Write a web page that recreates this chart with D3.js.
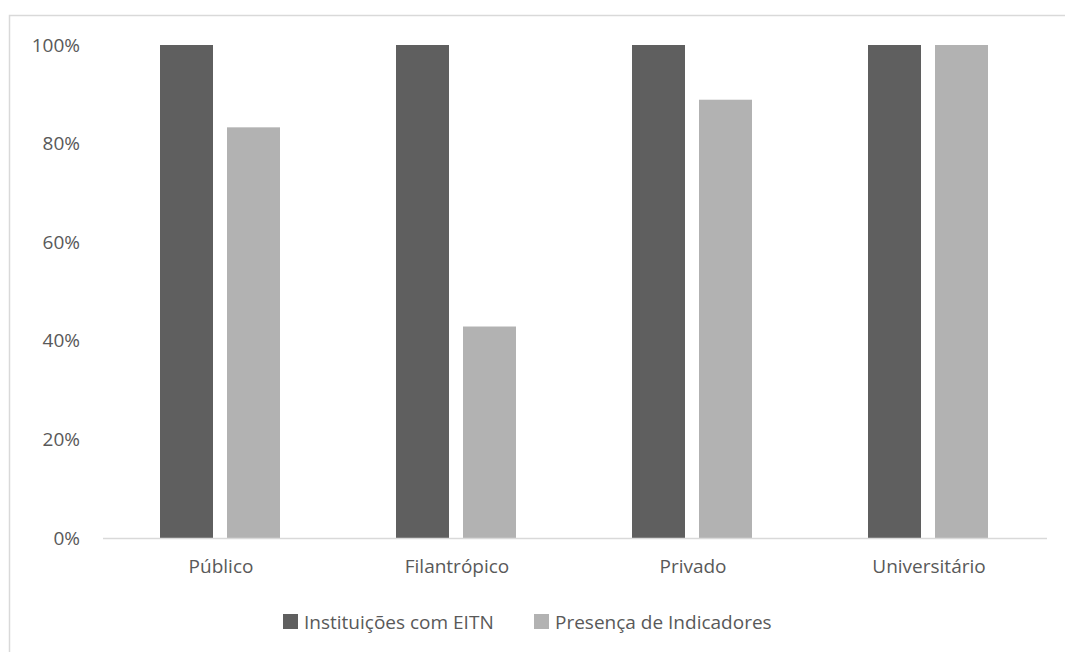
<!DOCTYPE html>
<html><head><meta charset="utf-8">
<script src="https://cdn.jsdelivr.net/npm/d3@7"></script>
<style>body{margin:0;background:#fff}svg{display:block}text{font-family:"Open Sans",sans-serif;fill:#595959}</style>
</head><body>
<script>
const categories = ["Público","Filantrópico","Privado","Universitário"];
const seriesNames = ["Instituições com EITN","Presença de Indicadores"];
const eitn = [1,1,1,1];
const indicadores = [0.833,0.429,0.889,1];
const yTicks = [0,0.2,0.4,0.6,0.8,1];
const colors = ["#5f5f5f","#b2b2b2"];

(function(){
const W=1065,H=652;
const svg=d3.select("body").append("svg").attr("width",W).attr("height",H);
svg.append("rect").attr("x",9.5).attr("y",15.5).attr("width",1070).attr("height",700)
  .attr("fill","none").attr("stroke","#d9d9d9").attr("stroke-width",1.5);

const pL=103,pR=1047,pT=45,pB=538;
const x=d3.scaleBand().domain(categories).range([pL,pR]);
const x1=d3.scaleBand().domain([0,1]).range([0,120]).paddingInner(0.209);
const y=d3.scaleLinear().domain([0,1]).range([pB,pT]);

const data=categories.map((c,i)=>({c,v:[eitn[i],indicadores[i]]}));
const g=svg.append("g");
data.forEach(d=>{
  d.v.forEach((v,j)=>{
    g.append("rect")
      .attr("x",x(d.c)+x.bandwidth()/2-61+x1(j))
      .attr("y",y(v)).attr("width",x1.bandwidth()).attr("height",y(0)-y(v))
      .attr("fill",colors[j]);
  });
});

svg.append("line").attr("x1",pL).attr("x2",pR).attr("y1",pB+0.5).attr("y2",pB+0.5)
  .attr("stroke","#d9d9d9").attr("stroke-width",1.5);

const fs=19;
const yAxis=d3.axisLeft(y).tickValues(yTicks).tickFormat(d3.format(".0%")).tickSize(0).tickPadding(0);
const ya=svg.append("g").attr("transform","translate(80,0)").call(yAxis);
ya.select(".domain").remove();
ya.selectAll("text").attr("font-size",fs).style("font-family","'Open Sans',sans-serif").attr("fill","#595959");

const xAxis=d3.axisBottom(x).tickSize(0).tickPadding(0);
const xa=svg.append("g").attr("transform",`translate(0,${pB+21})`).call(xAxis);
xa.select(".domain").remove();
xa.selectAll("text").attr("font-size",fs).attr("dy","0.71em").style("font-family","'Open Sans',sans-serif").attr("fill","#595959");

const legX=[283,534];
const leg=svg.append("g");
seriesNames.forEach((n,i)=>{
  leg.append("rect").attr("x",legX[i]).attr("y",614).attr("width",15).attr("height",15).attr("fill",colors[i]);
  leg.append("text").attr("x",legX[i]+21).attr("y",622).attr("dy","0.35em").attr("font-size",fs).text(n);
});
})();
</script>
</body></html>
